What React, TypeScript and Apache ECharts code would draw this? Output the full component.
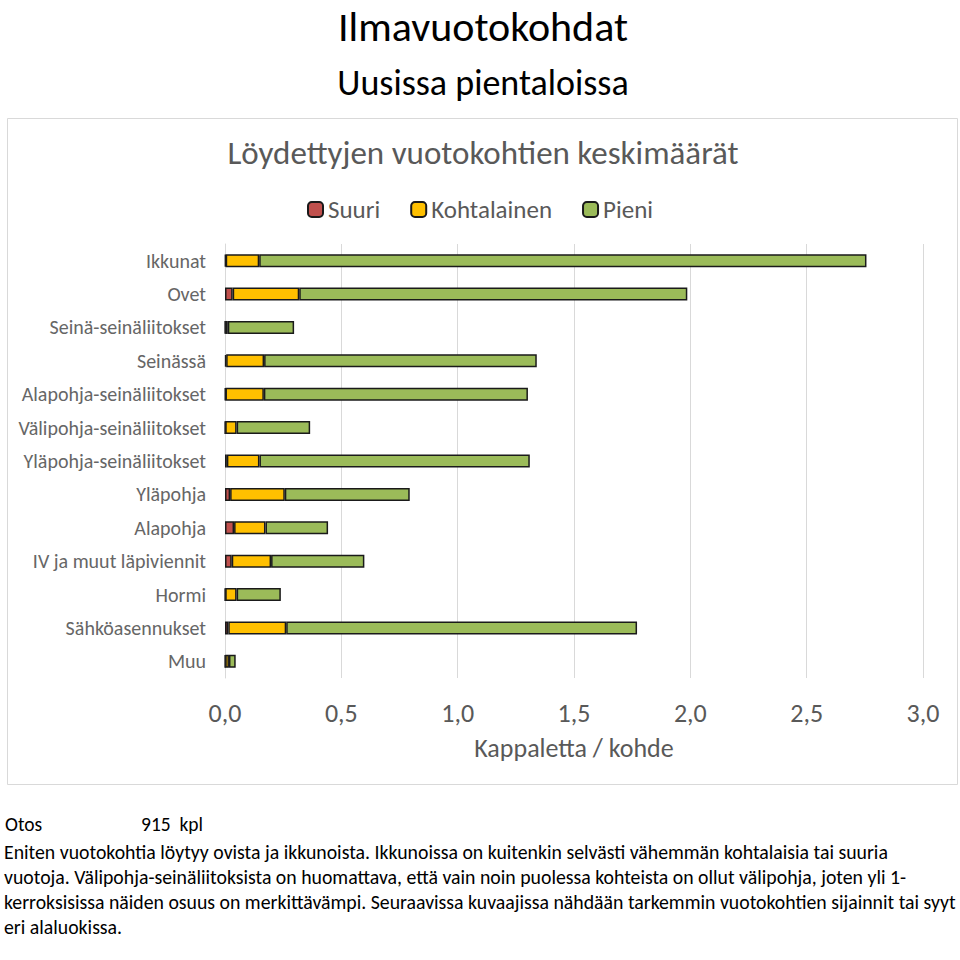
import React, { useEffect, useRef } from "react";
import * as echarts from "echarts";

const categories = [
  "Ikkunat",
  "Ovet",
  "Seinä-seinäliitokset",
  "Seinässä",
  "Alapohja-seinäliitokset",
  "Välipohja-seinäliitokset",
  "Yläpohja-seinäliitokset",
  "Yläpohja",
  "Alapohja",
  "IV ja muut läpiviennit",
  "Hormi",
  "Sähköasennukset",
  "Muu",
];
const suuri = [0.003, 0.033, 0.001, 0.005, 0.002, 0.001, 0.008, 0.022, 0.039, 0.029, 0.001, 0.014, 0.001];
const kohtalainen = [0.144, 0.286, 0.011, 0.163, 0.165, 0.049, 0.14, 0.235, 0.135, 0.169, 0.049, 0.249, 0.016];
const pieni = [2.61, 1.668, 0.285, 1.172, 1.135, 0.316, 1.162, 0.537, 0.269, 0.401, 0.19, 1.508, 0.029];
const seriesNames = ["Suuri", "Kohtalainen", "Pieni"];
const seriesColors = ["#c0504d", "#ffc000", "#9bbb59"];
const xTicks = { min: 0, max: 3, interval: 0.5 };

const mainTitle = "Ilmavuotokohdat";
const subTitle = "Uusissa pientaloissa";
const chartTitle = "Löydettyjen vuotokohtien keskimäärät";
const axisName = "Kappaletta / kohde";
const sampleLabel = "Otos";
const sampleValue = "915  kpl";
const noteLines = [
  "Eniten vuotokohtia löytyy ovista ja ikkunoista. Ikkunoissa on kuitenkin selvästi vähemmän kohtalaisia tai suuria",
  "vuotoja. Välipohja-seinäliitoksista on huomattava, että vain noin puolessa kohteista on ollut välipohja, joten yli 1-",
  "kerroksisissa näiden osuus on merkittävämpi. Seuraavissa kuvaajissa nähdään tarkemmin vuotokohtien sijainnit tai syyt",
  "eri alaluokissa.",
];

const FONT = "Carlito, Lato, 'Open Sans', sans-serif";

export default function App() {
  const ref = useRef<HTMLDivElement>(null);
  useEffect(() => {
    if (!ref.current) return;
    const chart = echarts.init(ref.current, undefined, { renderer: "svg" });
    const seriesData = [suuri, kohtalainen, pieni];
    const graphics: any[] = [
      {
        type: "rect",
        shape: { x: 7.5, y: 118.5, width: 950, height: 666 },
        style: { fill: "none", stroke: "#d9d9d9", lineWidth: 1 },
        z: 0,
      },
      {
        type: "text",
        x: 483,
        y: 26,
        style: { text: mainTitle, fontSize: 42, fontFamily: FONT, fill: "#000", align: "center", verticalAlign: "middle" },
      },
      {
        type: "text",
        x: 483,
        y: 83,
        style: { text: subTitle, fontSize: 36, fontFamily: FONT, fill: "#000", align: "center", verticalAlign: "middle" },
      },
      {
        type: "text",
        x: 483,
        y: 153,
        style: { text: chartTitle, fontSize: 33, fontFamily: FONT, fill: "#595959", align: "center", verticalAlign: "middle" },
      },
      {
        type: "text",
        x: 5,
        y: 824,
        style: { text: sampleLabel, fontSize: 19.5, fontFamily: FONT, fill: "#000", verticalAlign: "middle" },
      },
      {
        type: "text",
        x: 141,
        y: 824,
        style: { text: sampleValue, fontSize: 19.5, fontFamily: FONT, fill: "#000", verticalAlign: "middle" },
      },
    ];
    noteLines.forEach((t, i) => {
      graphics.push({
        type: "text",
        x: 4,
        y: 852 + i * 25,
        style: { text: t, fontSize: 19.8, fontFamily: FONT, fill: "#000", verticalAlign: "middle" },
      });
    });
    chart.setOption({
      animation: false,
      backgroundColor: "#fff",
      textStyle: { fontFamily: FONT },
      legend: {
        top: 192,
        left: "center",
        itemWidth: 15,
        itemHeight: 15,
        itemGap: 30,
        textStyle: { fontSize: 25, color: "#595959", fontFamily: FONT },
        data: seriesNames,
      },
      grid: { left: 225, right: 37, top: 244, bottom: 282, containLabel: false },
      xAxis: {
        type: "value",
        min: xTicks.min,
        max: xTicks.max,
        interval: xTicks.interval,
        axisLine: { show: false },
        axisTick: { show: false },
        splitLine: { show: true, lineStyle: { color: "#d9d9d9", width: 1 } },
        axisLabel: {
          fontSize: 26,
          color: "#595959",
          margin: 22,
          fontFamily: FONT,
          formatter: (v: number) => v.toFixed(1).replace(".", ","),
        },
        name: axisName,
        nameLocation: "middle",
        nameGap: 57,
        nameTextStyle: { fontSize: 26, color: "#595959", fontFamily: FONT },
      },
      yAxis: {
        type: "category",
        inverse: true,
        data: categories,
        axisLine: { show: true, lineStyle: { color: "#d9d9d9" } },
        axisTick: { show: false },
        axisLabel: { fontSize: 20, color: "#666666", margin: 19, fontFamily: FONT },
      },
      series: seriesNames.map((name, i) => ({
        name,
        type: "bar",
        stack: "total",
        barWidth: 13,
        data: seriesData[i],
        itemStyle: { color: seriesColors[i], borderColor: "#1a1a1a", borderWidth: 1.5 },
      })),
      graphic: graphics,
    });
    return () => chart.dispose();
  }, []);
  return (
    <div
      ref={ref}
      style={{ position: "absolute", left: 0, top: 0, width: 960, height: 960 }}
    />
  );
}
